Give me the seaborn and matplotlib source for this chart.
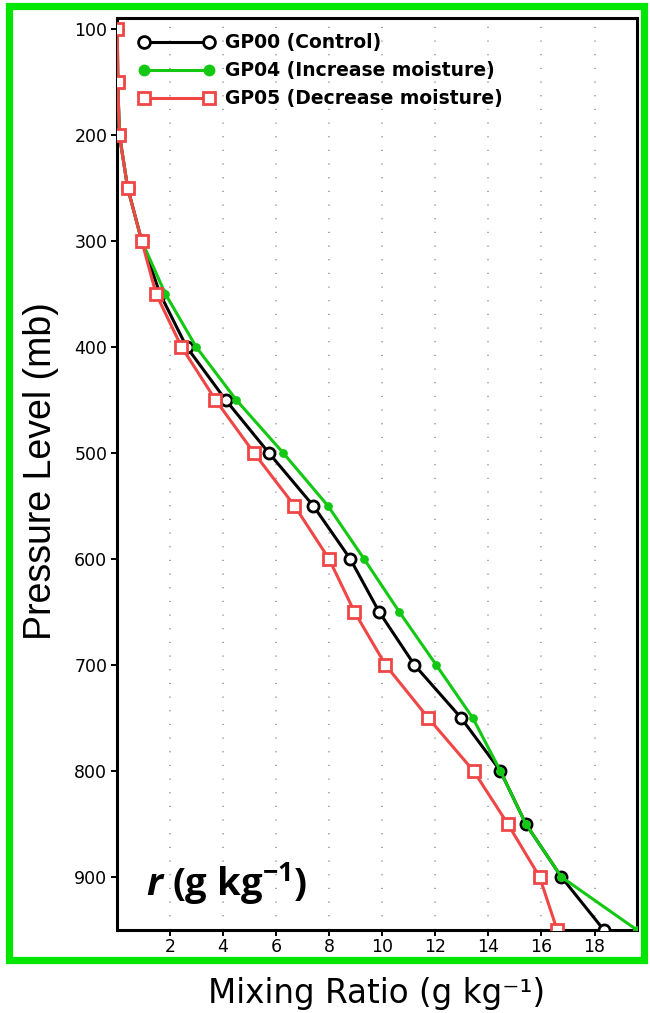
import numpy as np
import pandas as pd
import matplotlib
matplotlib.use("Agg")
import matplotlib.pyplot as plt
from matplotlib.patches import Rectangle
from matplotlib.lines import Line2D
import seaborn as sns

levels = [100, 150, 200, 250, 300, 350, 400, 450, 500, 550, 600, 650, 700, 750, 800, 850, 900, 950]
gp00 = [0.01, 0.03, 0.09, 0.40, 0.93, 1.62, 2.62, 4.09, 5.72, 7.40, 8.79, 9.88, 11.21, 12.97, 14.45, 15.41, 16.75, 18.35]
gp04 = [0.01, 0.03, 0.09, 0.40, 0.93, 1.82, 2.98, 4.49, 6.26, 7.95, 9.31, 10.64, 12.03, 13.41, 14.45, 15.41, 16.75, 19.6]
gp05 = [0.01, 0.03, 0.09, 0.40, 0.93, 1.47, 2.43, 3.71, 5.16, 6.69, 7.99, 8.95, 10.12, 11.73, 13.44, 14.73, 15.93, 16.59]
labels = ["GP00 (Control)", "GP04 (Increase moisture)", "GP05 (Decrease moisture)"]
xticks = [2, 4, 6, 8, 10, 12, 14, 16, 18]
yticks = [100, 200, 300, 400, 500, 600, 700, 800, 900]

sns.set_style("white")
plt.rcParams["font.family"] = ["DejaVu Sans"]
plt.rcParams["text.color"] = "black"
plt.rcParams["axes.labelcolor"] = "black"
plt.rcParams["xtick.color"] = "black"
plt.rcParams["ytick.color"] = "black"
plt.rcParams["mathtext.fontset"] = "custom"
plt.rcParams["mathtext.rm"] = "Open Sans:bold"
plt.rcParams["mathtext.it"] = "Open Sans:italic:bold"
plt.rcParams["mathtext.bf"] = "Open Sans:bold"

W, H = 650, 1013
fig = plt.figure(figsize=(W / 100, H / 100), dpi=100)
L, R, T, B = 117, 637, 18, 930
ax = fig.add_axes([L / W, 1 - B / H, (R - L) / W, (B - T) / H])

df = pd.DataFrame({"p": levels, "a": gp00, "b": gp04, "c": gp05})

black = "#000000"
green = "#12c812"
red = "#f04646"

sns.lineplot(data=df, x="a", y="p", orient="y", sort=False, estimator=None, ax=ax,
             color=black, lw=2.2, marker="o", ms=8, mfc="white", mec=black, mew=2.0,
             zorder=3)
sns.lineplot(data=df, x="b", y="p", orient="y", sort=False, estimator=None, ax=ax,
             color=green, lw=2.2, marker="o", ms=6.3, mfc=green, mec=green, mew=0,
             zorder=4)
sns.lineplot(data=df, x="c", y="p", orient="y", sort=False, estimator=None, ax=ax,
             color=red, lw=2.2, marker="s", ms=8.5, mfc="white", mec=red, mew=2.0,
             zorder=5)

ax.set_xlim(0, 19.6)
ax.set_ylim(950, 90)
ax.set_xticks(xticks)
ax.set_xticklabels([str(v) for v in xticks])
ax.set_yticks(yticks)
ax.set_yticklabels([str(v) for v in yticks])
ax.tick_params(axis="both", direction="out", length=4, width=1.4, color="black",
               labelsize=12.5, labelcolor="black", pad=3)
ax.tick_params(axis="x", bottom=True, pad=2)
ax.tick_params(axis="y", left=True)

for g in xticks:
    ax.axvline(g, color="#999999", lw=1.2, linestyle=(0, (0.7, 7.5)), zorder=1)

for s in ax.spines.values():
    s.set_visible(True)
    s.set_color("black")
    s.set_linewidth(2.2)

ax.set_xlabel("Mixing Ratio (g kg⁻¹)", fontsize=23.5, family=["DejaVu Sans"])
ax.xaxis.label.set_va("center")
ax.xaxis.set_label_coords(0.5, -(993 - B) / (B - T))
ax.set_ylabel("Pressure Level (mb)", fontsize=27, family=["Liberation Sans", "DejaVu Sans"])
ax.yaxis.label.set_va("center")
ax.yaxis.set_label_coords(-(L - 41) / (R - L), 1 - (471 - T) / (B - T))

handles = [
    Line2D([], [], color=black, lw=2.2, marker="o", ms=8.5, mfc="white", mec=black, mew=2.0),
    Line2D([], [], color=green, lw=2.2, marker="o", ms=8.5, mfc=green, mec=green, mew=0),
    Line2D([], [], color=red, lw=2.2, marker="s", ms=9, mfc="white", mec=red, mew=2.0),
]
fs_leg = 13.5
leg = ax.legend(handles, labels, loc="upper left",
                bbox_to_anchor=((131 - L) / (R - L), 1 - (26 - T) / (B - T)), frameon=False,
                numpoints=2, handlelength=4.04, handletextpad=0.55, labelspacing=0.48,
                borderaxespad=0.0, prop={"weight": "bold", "size": fs_leg})

fig.text(146 / W, 1 - 896 / H, r"$\mathit{r}$ (g kg$^{-1}$)", fontsize=27.5,
         fontfamily="Open Sans", fontweight="bold", va="baseline", ha="left")

rect = Rectangle((8.5 / W, 1 - 959.5 / H), (643.5 - 8.5) / W, (959.5 - 6.5) / H,
                 transform=fig.transFigure, fill=False, edgecolor="#00e600", lw=5.2,
                 zorder=10)
fig.patches.append(rect)

fig.savefig("out.png", dpi=100)
